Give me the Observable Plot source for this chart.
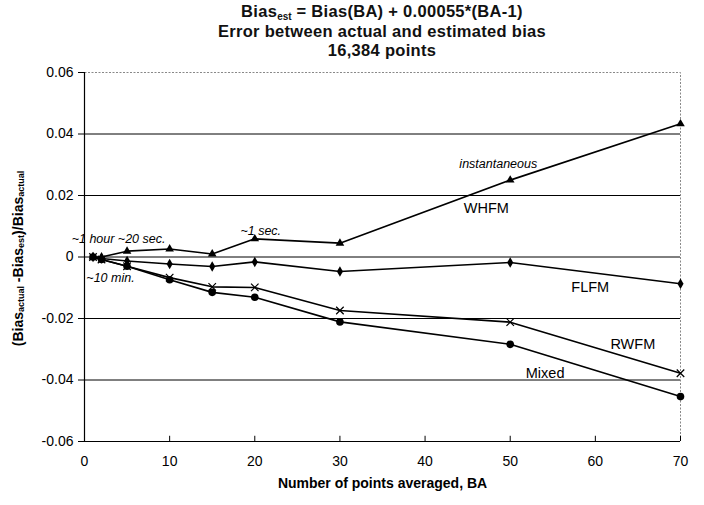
<!DOCTYPE html>
<html>
<head>
<meta charset="utf-8">
<script src="https://cdn.jsdelivr.net/npm/d3@7"></script>
<script src="https://cdn.jsdelivr.net/npm/@observablehq/plot@0.6"></script>
<style>
  body { margin: 0; background: white; font-family: "Liberation Sans", Arial, sans-serif; }
  #title { width: 704px; height: 62px; box-sizing: border-box; padding-top: 2px; padding-left: 60px;
           text-align: center; font-weight: bold; font-size: 16.5px; letter-spacing: 0.3px; line-height: 19.5px; color: #111; }
  #title sub { font-size: 10px; vertical-align: -3px; line-height: 0; letter-spacing: 0; }
</style>
</head>
<body>
<div id="title">
  <div>Bias<sub>est</sub> = Bias(BA) + 0.00055*(BA-1)</div>
  <div>Error between actual and estimated bias</div>
  <div>16,384 points</div>
</div>
<div id="chart"></div>
<script>
const pointsAveraged = [1, 2, 5, 10, 15, 20, 30, 50, 70];
const whfm  = [0, 0, 0.0019, 0.0026, 0.0010, 0.0059, 0.0045, 0.0250, 0.0433];
const flfm  = [0, -0.0005, -0.0013, -0.0023, -0.0031, -0.0016, -0.0047, -0.0018, -0.0087];
const rwfm  = [0, -0.0008, -0.0030, -0.0067, -0.0097, -0.0099, -0.0174, -0.0212, -0.0378];
const mixed = [0, -0.0008, -0.0030, -0.0074, -0.0115, -0.0131, -0.0211, -0.0284, -0.0454];

const xTicks = [0, 10, 20, 30, 40, 50, 60, 70];
const yTicks = [-0.06, -0.04, -0.02, 0, 0.02, 0.04, 0.06];
const gridTicks = [-0.04, -0.02, 0, 0.02, 0.04];

const annLabels = ["~1 hour ~20 sec.", "~10 min.", "~1 sec.", "instantaneous", "WHFM", "FLFM", "RWFM", "Mixed"];
const annX = [4.0, 3.05, 20.7, 48.6, 47.2, 59.4, 64.4, 54.1];
const annY = [0.0057, -0.0067, 0.0086, 0.0302, 0.0158, -0.0098, -0.0284, -0.0378];
const annItalic = [true, true, true, true, false, false, false, false];

const seriesDefs = [
  {name: "WHFM", values: whfm, symbol: "triangle", r: 3.2, fill: "black", stroke: "none"},
  {name: "FLFM", values: flfm, symbol: "diamond", r: 3.2, fill: "black", stroke: "none"},
  {name: "RWFM", values: rwfm, symbol: "times", r: 3.5, fill: "none", stroke: "black"},
  {name: "Mixed", values: mixed, symbol: "circle", r: 3.8, fill: "black", stroke: "none"}
];
const data = seriesDefs.flatMap(s => pointsAveraged.map((x, i) => ({series: s.name, x, y: s.values[i]})));
const annotations = annLabels.map((label, i) => ({label, x: annX[i], y: annY[i], italic: annItalic[i]}));

const fmt = d => d === 0 ? "0" : d.toFixed(2);
const yMin = yTicks[0];

const plot = Plot.plot({
  width: 704,
  height: 443,
  marginLeft: 84,
  marginRight: 24,
  marginTop: 10,
  marginBottom: 64,
  x: {type: "linear", domain: [0, 70]},
  y: {type: "linear", domain: [-0.06, 0.06]},
  style: {fontFamily: "'Liberation Sans', Arial, sans-serif", fontSize: "14px", background: "white", color: "black", overflow: "visible"},
  marks: [
    Plot.frame({stroke: "#888", strokeDasharray: "2,1.5", strokeWidth: 1}),
    Plot.ruleY(gridTicks, {stroke: "black", strokeWidth: 1}),
    Plot.ruleX([0], {stroke: "black", strokeWidth: 1.2}),
    Plot.ruleY([yMin], {stroke: "black", strokeWidth: 1.2}),
    Plot.axisY({ticks: yTicks, tickFormat: fmt, tickSize: 6, tickPadding: 5, label: null, fontSize: 14}),
    Plot.axisX({ticks: xTicks, tickSize: 0, tickPadding: 15, label: null, fontSize: 14}),
    Plot.ruleX(xTicks, {x: d => d, y1: () => yMin, y2: () => yMin + 0.0017, stroke: "black", strokeWidth: 1}),
    Plot.line(data, {x: "x", y: "y", z: "series", stroke: "black", strokeWidth: 1.6}),
    ...seriesDefs.map(s => Plot.dot(data.filter(d => d.series === s.name), {
      x: "x", y: "y", symbol: s.symbol, r: s.r, fill: s.fill, stroke: s.stroke, strokeWidth: 1.2
    })),
    Plot.text(annotations.filter(a => a.italic), {x: "x", y: "y", text: "label", fontSize: 12.5, fontStyle: "italic", fill: "black"}),
    Plot.text(annotations.filter(a => !a.italic), {x: "x", y: "y", text: "label", fontSize: 14.5, fill: "black"}),
    Plot.text(["Number of points averaged, BA"], {frameAnchor: "bottom", dy: 46, text: d => d, fontSize: 14, fontWeight: "bold", fill: "black"})
  ]
});
document.getElementById("chart").appendChild(plot);

// rotated y-axis label with subscripts
const svg = d3.select(plot);
const cy = (10 + (443 - 64)) / 2 + 2;
const t = svg.append("text")
  .attr("transform", `translate(19,${cy}) rotate(-90)`)
  .attr("text-anchor", "middle")
  .attr("dominant-baseline", "middle")
  .attr("font-weight", "bold")
  .attr("font-size", 14)
  .attr("font-family", "'Liberation Sans', Arial, sans-serif")
  .attr("fill", "black");
const parts = [["(Bias", false], ["actual", true], [" -Bias", false], ["est", true], [")/Bias", false], ["actual", true]];
parts.forEach(([s, sub], i) => {
  const ts = t.append("tspan").text(s);
  if (sub) ts.attr("font-size", 9).attr("dy", 3); else if (i > 0) ts.attr("dy", -3);
});
</script>
</body>
</html>
